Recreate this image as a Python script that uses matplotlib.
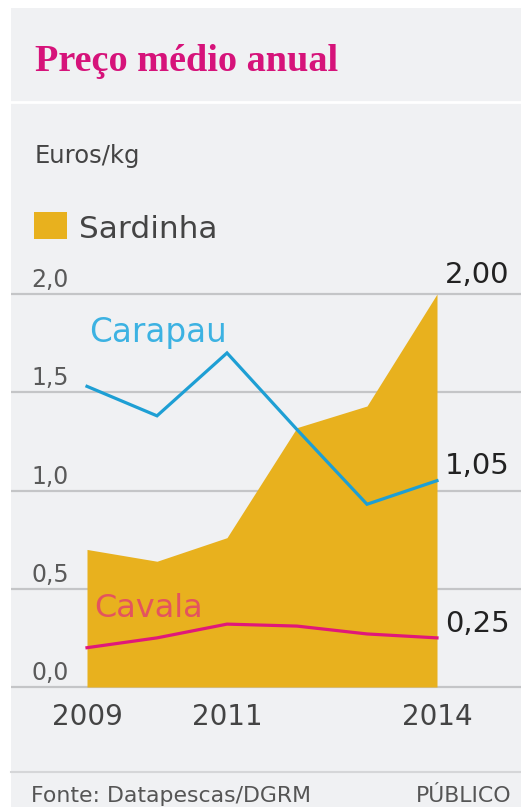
import matplotlib.pyplot as plt
from matplotlib.patches import Rectangle
from matplotlib.lines import Line2D

# Preço médio anual (euros/kg)
anos = [2009, 2010, 2011, 2012, 2013, 2014]
sardinha = [0.70, 0.64, 0.76, 1.32, 1.43, 2.00]
carapau = [1.53, 1.38, 1.70, 1.31, 0.93, 1.05]
cavala = [0.20, 0.25, 0.32, 0.31, 0.27, 0.25]
yticks = [0.0, 0.5, 1.0, 1.5, 2.0]
xticks = [2009, 2011, 2014]

W, H = 521, 807
LARANJA = '#e8b11e'
AZUL = '#1e9fd4'
ROSA = '#e0187a'
CINZA = '#444444'
FUNDO = '#f0f1f3'
SANS = ['DejaVu Sans']


def fx(px):
    return px / W


def fy(py):
    return 1 - py / H


fig = plt.figure(figsize=(W / 100, H / 100), dpi=100)
fig.patch.set_facecolor('white')
fig.patches.append(Rectangle((fx(11), 0), 1 - fx(11), fy(8), transform=fig.transFigure,
                             facecolor=FUNDO, edgecolor='none', zorder=-5))
fig.lines.append(Line2D([fx(11), 1], [fy(102), fy(102)], transform=fig.transFigure,
                        color='white', lw=2, zorder=-4))
fig.lines.append(Line2D([fx(11), 1], [fy(772), fy(772)], transform=fig.transFigure,
                        color='#d5d6d8', lw=1.5, zorder=-4))

# cabeçalho
fig.text(fx(35), fy(71), 'Preço médio anual', family='Liberation Serif', weight='bold',
         fontsize=27.5, color='#d6137a', va='baseline')
fig.text(fx(35), fy(163), 'Euros/kg', family=SANS, fontsize=17.5, color=CINZA, va='baseline')
fig.patches.append(Rectangle((fx(34), fy(239)), fx(67) - fx(34), fy(212) - fy(239),
                             transform=fig.transFigure, facecolor=LARANJA, edgecolor='none'))
fig.text(fx(79), fy(238), 'Sardinha', family=SANS, fontsize=22.5, color=CINZA, va='baseline')

# área do gráfico
ax = fig.add_axes([fx(11), fy(700), fx(521) - fx(11), fy(250) - fy(700)])
ax.set_facecolor('none')
ax.set_xlim(2009 - 76 / 70, 2014 + 84 / 70)
ax.set_ylim(-13 / 196.5, 437 / 196.5)
ax.axis('off')

for v in yticks:
    ax.axhline(v, color='#c4c5c7', lw=1.6, zorder=1)
    ax.annotate(f'{v:.1f}'.replace('.', ','), (0, v), xycoords=('axes fraction', 'data'),
                xytext=(14.5, 5), textcoords='offset points', va='baseline', ha='left',
                family=SANS, fontsize=17, color='#5a5a5a')

ax.fill_between(anos, sardinha, 0, color=LARANJA, lw=0, zorder=2)
ax.plot(anos, carapau, color=AZUL, lw=2.3, zorder=3, solid_joinstyle='miter')
ax.plot(anos, cavala, color=ROSA, lw=2.3, zorder=3)

ax.text(2009.03, 1.756, 'Carapau', family=SANS, fontsize=23.5, color='#3cb2e2', va='baseline')
ax.text(2009.1, 0.356, 'Cavala', family=SANS, fontsize=23, color='#e4545e', va='baseline',
        zorder=4)

# valores finais
for serie, dy in [(sardinha, 8), (carapau, 5), (cavala, 4.3)]:
    ax.annotate(f'{serie[-1]:.2f}'.replace('.', ','), (anos[-1], serie[-1]),
                xytext=(5.5, dy), textcoords='offset points', va='baseline', ha='left',
                family=SANS, fontsize=21, color='#222222')

for ano in xticks:
    ax.annotate(str(ano), (ano, 0), xytext=(0, -27.5), textcoords='offset points',
                ha='center', va='baseline', family=SANS, fontsize=20, color=CINZA)

# rodapé
fig.text(fx(31), fy(802), 'Fonte: Datapescas/DGRM', family=SANS, fontsize=15.8,
         color='#555555', va='baseline')
fig.text(fx(511), fy(802), 'PÚBLICO', family=SANS, fontsize=15.8, color='#555555',
         va='baseline', ha='right')

fig.savefig('out.png', dpi=100, facecolor=fig.get_facecolor())
